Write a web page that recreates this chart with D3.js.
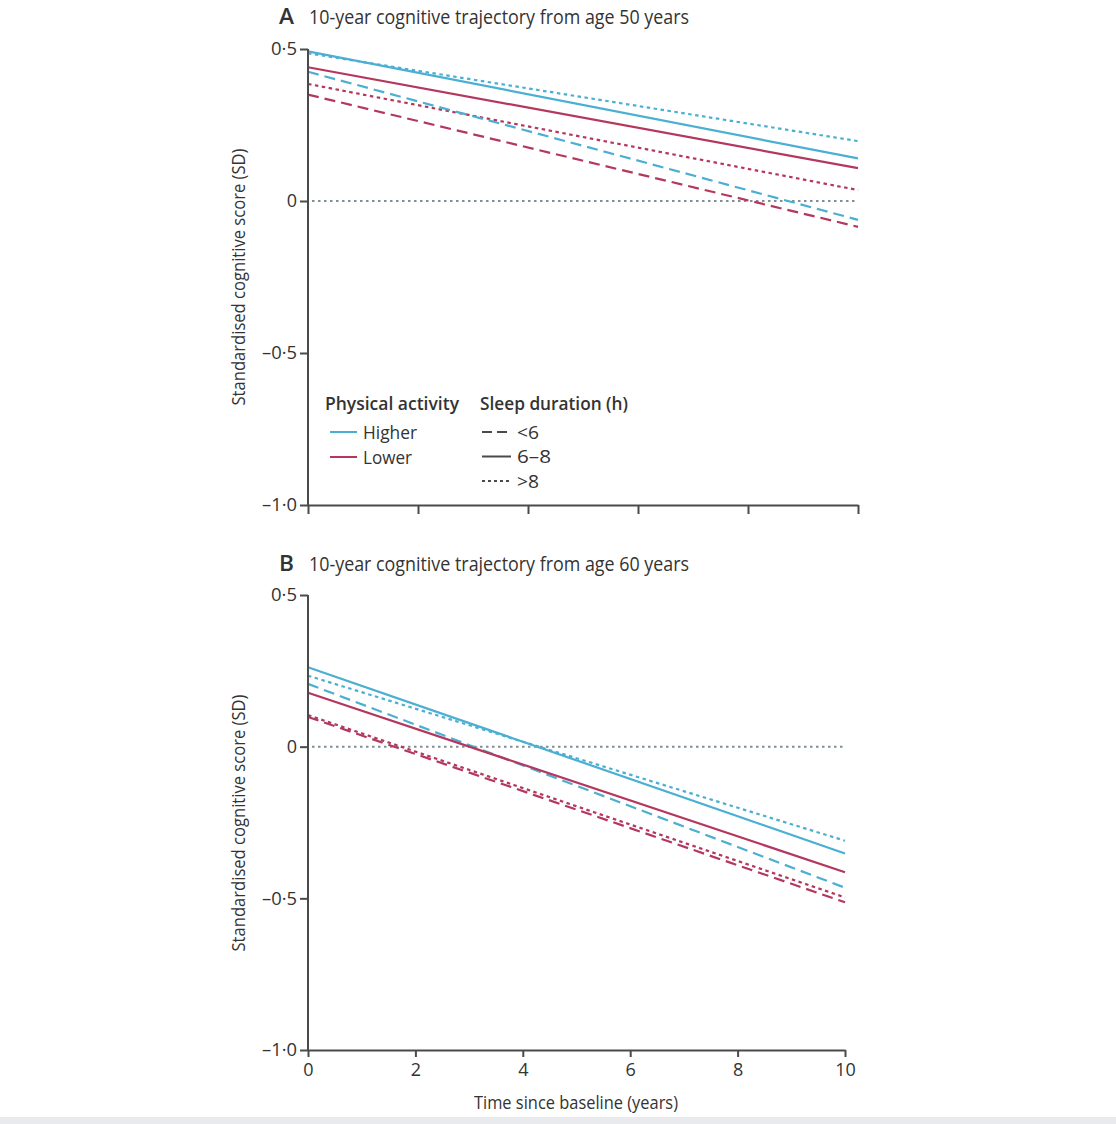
<!DOCTYPE html>
<html>
<head>
<meta charset="utf-8">
<script src="https://cdn.jsdelivr.net/npm/d3@7"></script>
<style>
  html, body { margin: 0; padding: 0; background: #fff; }
  svg { display: block; }
  text { font-family: "Liberation Sans Narrow", "Open Sans", "Noto Sans", sans-serif; fill: #333; }
</style>
</head>
<body>
<script>
// ---------- DATA ----------
const years = [0, 10];
const xTicks = [0, 2, 4, 6, 8, 10];
const xTickLabels = ["0", "2", "4", "6", "8", "10"];
const yTicks = [0.5, 0, -0.5, -1.0];
const yTickLabels = ["0·5", "0", "–0·5", "–1·0"];
const activityGroups = ["Higher", "Lower"];
const sleepGroups = ["<6", "6–8", ">8"];

// Panel A: from age 50 (values at year 0 and year 10)
const A_higher_lt6 = [0.425, -0.062];
const A_higher_6to8 = [0.492, 0.140];
const A_higher_gt8 = [0.486, 0.197];
const A_lower_lt6 = [0.350, -0.085];
const A_lower_6to8 = [0.440, 0.108];
const A_lower_gt8 = [0.385, 0.036];

// Panel B: from age 60
const B_higher_lt6 = [0.207, -0.465];
const B_higher_6to8 = [0.262, -0.352];
const B_higher_gt8 = [0.234, -0.310];
const B_lower_lt6 = [0.098, -0.513];
const B_lower_6to8 = [0.178, -0.414];
const B_lower_gt8 = [0.104, -0.497];

const titles = ["10-year cognitive trajectory from age 50 years", "10-year cognitive trajectory from age 60 years"];
const panelLetters = ["A", "B"];

// ---------- STYLE ----------
const colors = { "Higher": "#4aafd2", "Lower": "#b4375d" };
const dashes = { "<6": "11,6", "6–8": null, ">8": "3.5,3.5" };
const axisColor = "#4a4a4a";
const FONT = "\"Liberation Sans Narrow\", \"Open Sans\", \"Noto Sans\", sans-serif";

const W = 1116, H = 1124;
const svg = d3.select("body").append("svg").attr("width", W).attr("height", H);

svg.append("rect").attr("x", 0).attr("y", 1117).attr("width", W).attr("height", 7).attr("fill", "#e9eaee");

function seriesFor(p) {
  if (p === 0) return [
    { act: "Higher", sleep: ">8", v: A_higher_gt8 },
    { act: "Lower", sleep: ">8", v: A_lower_gt8 },
    { act: "Higher", sleep: "<6", v: A_higher_lt6 },
    { act: "Lower", sleep: "<6", v: A_lower_lt6 },
    { act: "Lower", sleep: "6–8", v: A_lower_6to8 },
    { act: "Higher", sleep: "6–8", v: A_higher_6to8 }
  ];
  return [
    { act: "Higher", sleep: ">8", v: B_higher_gt8 },
    { act: "Lower", sleep: ">8", v: B_lower_gt8 },
    { act: "Lower", sleep: "<6", v: B_lower_lt6 },
    { act: "Higher", sleep: "<6", v: B_higher_lt6 },
    { act: "Lower", sleep: "6–8", v: B_lower_6to8 },
    { act: "Higher", sleep: "6–8", v: B_higher_6to8 }
  ];
}

const panels = [
  { x0: 308, x1: 858, yTop: 49, yBot: 505, titleY: 24, labels: false, ylabCenter: 277 },
  { x0: 308, x1: 845, yTop: 595, yBot: 1050, titleY: 571, labels: true, ylabCenter: 823 }
];

panels.forEach((P, pi) => {
  const g = svg.append("g");
  const x = d3.scaleLinear().domain([0, 10]).range([P.x0, P.x1]);
  const y = d3.scaleLinear().domain([-1, 0.5]).range([P.yBot, P.yTop]);

  // titles
  g.append("text").attr("x", 279).attr("y", P.titleY).attr("font-size", 22).attr("font-weight", 600)
    .attr("textLength", 15).attr("lengthAdjust", "spacingAndGlyphs")
    .text(panelLetters[pi]);
  g.append("text").attr("x", 309).attr("y", P.titleY).attr("font-size", 19.5)
    .attr("textLength", 380).attr("lengthAdjust", "spacingAndGlyphs").text(titles[pi]);

  // y label
  g.append("text").attr("transform", `translate(245,${P.ylabCenter}) rotate(-90)`)
    .attr("text-anchor", "middle").attr("font-size", 17.5)
    .attr("textLength", 257).attr("lengthAdjust", "spacingAndGlyphs")
    .text("Standardised cognitive score (SD)");

  // zero reference line
  g.append("line").attr("x1", x(0) + 4).attr("x2", x(10)).attr("y1", y(0)).attr("y2", y(0))
    .attr("stroke", "#7d9097").attr("stroke-width", 2).attr("stroke-dasharray", "2.5,3.5");

  // series lines
  const line = d3.line().x((d, i) => x(years[i])).y(d => y(d));
  seriesFor(pi).forEach(s => {
    g.append("path").datum(s.v).attr("d", line).attr("fill", "none")
      .attr("stroke", colors[s.act]).attr("stroke-width", 2.2)
      .attr("stroke-dasharray", dashes[s.sleep]);
  });

  // axes
  const yAxis = d3.axisLeft(y).tickValues(yTicks).tickFormat((d, i) => yTickLabels[i])
    .tickSize(8).tickSizeOuter(0).tickPadding(3);
  const ya = g.append("g").attr("transform", `translate(${P.x0},0)`).call(yAxis);
  const xAxis = d3.axisBottom(x).tickValues(xTicks)
    .tickFormat((d, i) => P.labels ? xTickLabels[i] : "")
    .tickSize(P.labels ? 7 : 9).tickSizeOuter(0).tickPadding(6);
  const xa = g.append("g").attr("transform", `translate(0,${P.yBot})`).call(xAxis);
  [ya, xa].forEach(a => {
    a.attr("font-size", 18).attr("font-family", FONT);
    a.select(".domain").attr("stroke", axisColor).attr("stroke-width", 2);
    a.selectAll(".tick line").attr("stroke", axisColor).attr("stroke-width", 2);
    a.selectAll(".tick text").attr("fill", "#333").style("font-size", "18px");
  });
  ya.selectAll(".tick text").attr("textLength", (d, i) => yTickLabels[i].length > 1 ? (yTickLabels[i].length > 3 ? 35 : 26) : null)
    .attr("lengthAdjust", "spacingAndGlyphs");
  ya.select(".domain").attr("d", `M0,${P.yTop}V${P.yBot + 1}`);
});

// x-axis title (panel B)
svg.append("text").attr("x", 576).attr("y", 1109).attr("text-anchor", "middle").attr("font-size", 17.5)
  .attr("textLength", 204).attr("lengthAdjust", "spacingAndGlyphs").text("Time since baseline (years)");

// ---------- LEGEND (panel A) ----------
const lg = svg.append("g");
lg.append("text").attr("x", 325).attr("y", 410).attr("font-size", 18.5).attr("font-weight", 600)
  .attr("textLength", 134).attr("lengthAdjust", "spacingAndGlyphs").text("Physical activity");
lg.append("text").attr("x", 480).attr("y", 410).attr("font-size", 18.5).attr("font-weight", 600)
  .attr("textLength", 148).attr("lengthAdjust", "spacingAndGlyphs").text("Sleep duration (h)");

const actW = { "Higher": 54, "Lower": 49 };
activityGroups.forEach((a, i) => {
  const yy = 432 + i * 25;
  lg.append("line").attr("x1", 330).attr("x2", 357).attr("y1", yy).attr("y2", yy)
    .attr("stroke", colors[a]).attr("stroke-width", 2);
  lg.append("text").attr("x", 363).attr("y", yy + 6.5).attr("font-size", 18)
    .attr("textLength", actW[a]).attr("lengthAdjust", "spacingAndGlyphs").text(a);
});
const sleepW = { "<6": 22, "6–8": 34, ">8": 22 };
sleepGroups.forEach((s, i) => {
  const yy = 432 + i * 24.5;
  lg.append("line").attr("x1", 482).attr("x2", 511).attr("y1", yy).attr("y2", yy)
    .attr("stroke", axisColor).attr("stroke-width", 2)
    .attr("stroke-dasharray", s === "<6" ? "10,5" : (s === ">8" ? "3,3" : null));
  lg.append("text").attr("x", 517).attr("y", yy + 6.5).attr("font-size", 18)
    .attr("textLength", sleepW[s]).attr("lengthAdjust", "spacingAndGlyphs").text(s);
});
</script>
</body>
</html>
